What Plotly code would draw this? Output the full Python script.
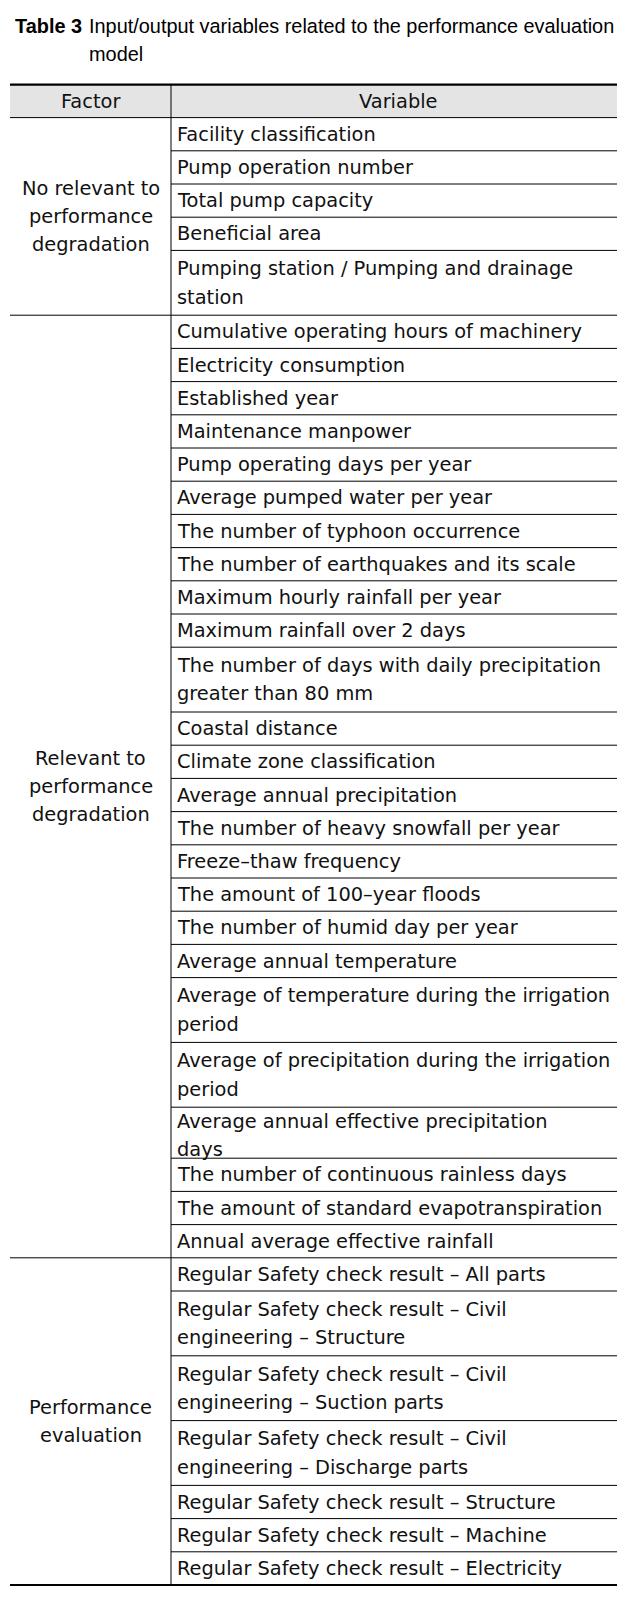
import plotly.graph_objects as go

# ---------------- data ----------------
title_label = "Table 3"
title_lines = ["Input/output variables related to the performance evaluation", "model"]
header = ["Factor", "Variable"]

factors = [
    "No relevant to<br>performance<br>degradation",
    "Relevant to<br>performance<br>degradation",
    "Performance<br>evaluation",
]

group1 = [
    "Facility classification",
    "Pump operation number",
    "Total pump capacity",
    "Beneficial area",
    "Pumping station / Pumping and drainage<br>station",
]

group2 = [
    "Cumulative operating hours of machinery",
    "Electricity consumption",
    "Established year",
    "Maintenance manpower",
    "Pump operating days per year",
    "Average pumped water per year",
    "The number of typhoon occurrence",
    "The number of earthquakes and its scale",
    "Maximum hourly rainfall per year",
    "Maximum rainfall over 2 days",
    "The number of days with daily precipitation<br>greater than 80 mm",
    "Coastal distance",
    "Climate zone classification",
    "Average annual precipitation",
    "The number of heavy snowfall per year",
    "Freeze\u2013thaw frequency",
    "The amount of 100\u2013year floods",
    "The number of humid day per year",
    "Average annual temperature",
    "Average of temperature during the irrigation<br>period",
    "Average of precipitation during the irrigation<br>period",
    "Average annual effective precipitation<br>days",
    "The number of continuous rainless days",
    "The amount of standard evapotranspiration",
    "Annual average effective rainfall",
]

group3 = [
    "Regular Safety check result \u2013 All parts",
    "Regular Safety check result \u2013 Civil<br>engineering \u2013 Structure",
    "Regular Safety check result \u2013 Civil<br>engineering \u2013 Suction parts",
    "Regular Safety check result \u2013 Civil<br>engineering \u2013 Discharge parts",
    "Regular Safety check result \u2013 Structure",
    "Regular Safety check result \u2013 Machine",
    "Regular Safety check result \u2013 Electricity",
]

groups = [group1, group2, group3]

# ---------------- layout constants ----------------
W, H = 625, 1599
PAGE_OFF = 8               # default body margin of the written page
X_LEFT, X_DIV, X_RIGHT = 10, 171, 625
Y_TOP = 84.6
HEADER_H = 33.0
SINGLE_H = 33.2
DOUBLE_H = 64.8
SHORT_ROW = (1, 21)      # group/row index of the squeezed row
SHORT_H = 51.0
LINE_GAP = 28.4
FONT = "DejaVu Sans, Verdana, sans-serif"
FS = 19.4
TXT = "#111111"
TITLE_FONT = "Liberation Sans, Arial, sans-serif"
TITLE_FS = 19.9

shapes = []
annotations = []

def hline(y, x0, x1, w=1):
    shapes.append(dict(type="line", xref="x", yref="y", x0=x0, x1=x1, y0=y, y1=y,
                       line=dict(color="black", width=w)))

def multiline(text, x, ycenter, anchor, gap=LINE_GAP, size=FS):
    parts = text.split("<br>")
    n = len(parts)
    for i, p in enumerate(parts):
        y = ycenter + (i - (n - 1) / 2) * gap
        annotations.append(dict(x=x, y=y, xref="x", yref="y", text=p, showarrow=False,
                                xanchor=anchor, yanchor="middle",
                                font=dict(family=FONT, size=size, color=TXT)))

# title
annotations.append(dict(x=13, y=25.5, xref="x", yref="y", text="<b>" + title_label + "</b>",
                        showarrow=False, xanchor="left", yanchor="middle",
                        font=dict(family=TITLE_FONT, size=TITLE_FS, color="black")))
for i, t in enumerate(title_lines):
    annotations.append(dict(x=87, y=25.5 + i * 28, xref="x", yref="y", text=t,
                            showarrow=False, xanchor="left", yanchor="middle",
                            font=dict(family=TITLE_FONT, size=TITLE_FS, color="black")))

# header
shapes.append(dict(type="rect", xref="x", yref="y", x0=X_LEFT, x1=X_RIGHT, y0=Y_TOP, y1=Y_TOP + HEADER_H,
                   fillcolor="#e4e4e4", line=dict(width=0), layer="below"))
multiline(header[0], (X_LEFT + X_DIV) / 2, Y_TOP + HEADER_H / 2, "center")
multiline(header[1], (X_DIV + X_RIGHT) / 2, Y_TOP + HEADER_H / 2, "center")
hline(Y_TOP, X_LEFT, X_RIGHT, 2.2)
y = Y_TOP + HEADER_H
hline(y, X_LEFT, X_RIGHT, 1)

for gi, (fac, rows) in enumerate(zip(factors, groups)):
    g_start = y
    for ri, r in enumerate(rows):
        nlines = len(r.split("<br>"))
        h = SINGLE_H if nlines == 1 else DOUBLE_H
        if (gi, ri) == SHORT_ROW:
            h = SHORT_H
        gap = LINE_GAP if h != SHORT_H else 28
        multiline(r, X_DIV + 3.5, y + h / 2 + (2.5 if h == SHORT_H else 0), "left", gap=gap)
        y += h
        if ri < len(rows) - 1:
            hline(y, X_DIV, X_RIGHT, 1)
    multiline(fac, (X_LEFT + X_DIV) / 2, (g_start + y) / 2, "center", gap=28)
    if gi < len(groups) - 1:
        hline(y, X_LEFT, X_RIGHT, 1)
y_bottom = y
hline(y_bottom, X_LEFT, X_RIGHT, 2.2)
shapes.append(dict(type="line", xref="x", yref="y", x0=X_DIV, x1=X_DIV, y0=Y_TOP, y1=y_bottom,
                   line=dict(color="black", width=1)))

fig = go.Figure()
fig.update_layout(
    width=W - PAGE_OFF, height=H - PAGE_OFF, margin=dict(l=0, r=0, t=0, b=0),
    paper_bgcolor="white", plot_bgcolor="white",
    xaxis=dict(range=[PAGE_OFF, W], visible=False, fixedrange=True),
    yaxis=dict(range=[H, PAGE_OFF], visible=False, fixedrange=True),
    shapes=shapes, annotations=annotations, showlegend=False,
)
fig.write_html("out.html")
